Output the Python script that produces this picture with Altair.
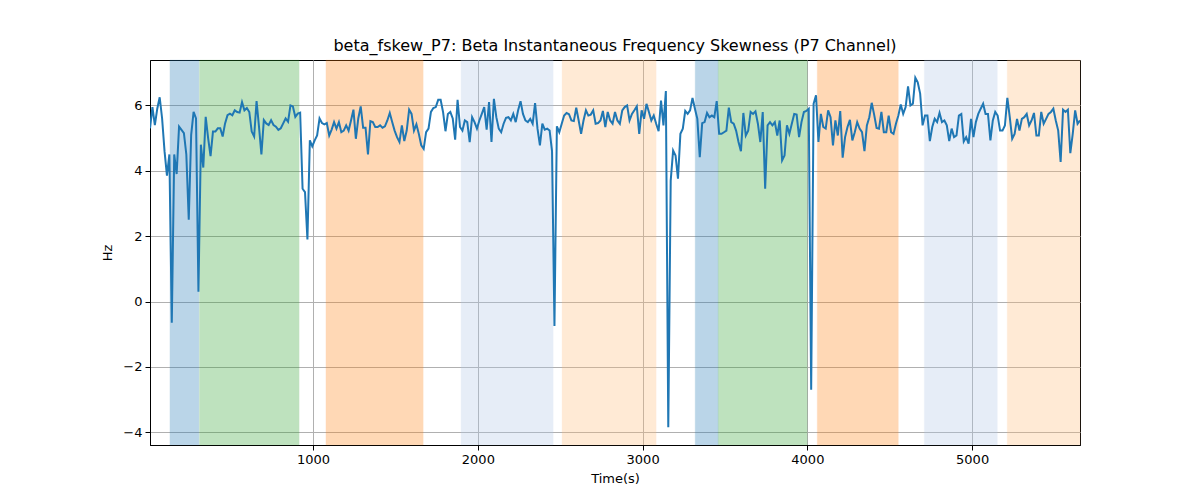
import altair as alt
import pandas as pd

# sampling grid of the recording
t_start = 10.0
t_step = 14.7

# beta skewness, Hz, one value per sample
skew_hz = [
    5.3, 5.95, 5.4, 5.9, 6.25, 5.6, 4.6, 3.85, 4.5, -0.65,
    4.5, 3.9, 5.35, 5.25, 5.15, 4.5, 2.5, 5.1, 5.8, 5.6,
    0.3, 4.8, 4.1, 5.65, 5.0, 4.45, 5.2, 5.2, 5.3, 5.3,
    5.05, 5.45, 5.7, 5.75, 5.7, 5.85, 5.8, 5.78, 6.1, 5.85,
    5.92, 5.8, 5.2, 5.05, 6.13, 5.35, 4.5, 5.55, 5.45, 5.4,
    5.55, 5.4, 5.35, 5.25, 5.3, 5.45, 5.6, 5.5, 6.0, 5.97,
    5.65, 5.75, 5.78, 3.45, 3.35, 1.9, 4.93, 4.75, 4.93, 5.08,
    5.6, 5.46, 5.42, 5.46, 5.08, 5.26, 5.49, 5.29, 5.49, 5.18,
    5.23, 5.39, 5.23, 5.54, 5.87, 4.98, 5.6, 5.97, 5.32, 5.32,
    4.5, 5.52, 5.49, 5.34, 5.34, 5.39, 5.32, 5.36, 5.54, 5.77,
    5.49, 5.23, 5.03, 4.88, 5.39, 4.91, 5.23, 5.87, 5.74, 5.23,
    5.42, 5.13, 4.78, 4.67, 5.18, 5.29, 5.8, 5.92, 5.95, 6.17,
    6.17, 5.8, 5.21, 5.74, 5.8, 5.6, 4.95, 6.17, 5.34, 5.23,
    5.54, 5.49, 4.88, 5.64, 5.49, 5.29, 5.54, 5.74, 5.95, 5.26,
    6.1, 4.88, 6.2, 5.64, 5.29, 5.18, 5.44, 5.62, 5.64, 5.54,
    5.74, 5.49, 5.85, 6.13, 5.74, 5.54, 5.49, 5.59, 5.44, 6.07,
    5.29, 4.78, 5.44, 5.26, 5.29, 5.23, 4.6, -0.75, 5.36, 5.18,
    5.44, 5.69, 5.77, 5.73, 5.54, 5.52, 5.93, 5.54, 5.13, 5.54,
    5.85, 5.69, 5.72, 5.85, 5.44, 5.46, 5.54, 5.83, 5.34, 5.8,
    5.54, 5.44, 5.8, 5.54, 5.44, 5.85, 5.95, 6.0, 5.54, 5.74,
    5.85, 5.97, 5.13, 5.85, 5.59, 6.05, 5.8, 5.54, 5.69, 5.44,
    5.21, 6.15, 5.39, 6.44, -3.85, 3.7, 4.62, 4.47, 3.76, 5.13,
    5.29, 5.83, 5.74, 5.85, 6.23, 5.9, 5.59, 4.42, 5.46, 5.49,
    5.77, 5.64, 5.69, 5.64, 6.13, 5.13, 5.13, 5.18, 5.23, 5.93,
    5.49, 5.44, 5.23, 4.88, 4.6, 5.77, 5.08, 5.23, 5.8, 5.74,
    5.82, 5.44, 4.88, 5.8, 3.45, 5.39, 5.49, 5.39, 5.49, 5.08,
    5.54, 4.32, 4.47, 5.39, 5.13, 5.44, 5.74, 5.72, 5.03, 5.49,
    5.8, 5.83, 5.9, -2.7, 6.05, 6.31, 4.88, 5.74, 5.34, 5.29,
    5.85, 5.64, 4.78, 5.54, 5.08, 5.83, 4.4, 5.03, 5.34, 5.56,
    4.93, 5.18, 5.49, 5.29, 5.18, 4.6, 5.39, 5.64, 6.08, 5.72,
    5.31, 5.29, 5.8, 5.18, 5.18, 5.69, 5.18, 5.13, 5.44, 5.69,
    6.03, 5.74, 5.95, 6.58, 6.0, 6.05, 6.85, 6.71, 6.36, 5.39,
    5.69, 5.69, 4.91, 5.34, 5.59, 5.49, 5.77, 5.49, 5.54, 5.39,
    4.91, 5.29, 5.03, 5.08, 5.69, 5.74, 4.9, 5.03, 4.83, 5.59,
    5.03, 5.49, 5.74, 5.9, 6.05, 5.74, 5.74, 4.93, 5.54, 5.8,
    5.69, 5.23, 5.23, 5.39, 6.23, 5.64, 4.98, 5.13, 5.59, 5.23,
    5.59, 5.64, 5.74, 5.39, 5.54, 5.77, 5.08, 5.08, 5.8, 5.44,
    5.59, 5.74, 5.8, 5.9, 5.54, 5.23, 4.27, 5.87, 5.8, 5.87,
    4.54, 5.13, 5.85, 5.44, 5.54,
]

# shaded stages
band_start = [131, 310, 1078, 1898, 2511, 3319, 3459, 4060, 4710, 5213]
band_end = [307, 915, 1668, 2457, 3082, 3459, 3999, 4552, 5153, 5656]
band_color = ["#1f77b4", "#2ca02c", "#ff7f0e", "#aec7e8", "#ffbb78",
              "#1f77b4", "#2ca02c", "#ff7f0e", "#aec7e8", "#ffbb78"]

x_ticks = [1000, 2000, 3000, 4000, 5000]
y_ticks = [-4, -2, 0, 2, 4, 6]

times = [t_start + i * t_step for i in range(len(skew_hz))]
df = pd.DataFrame({"t": times, "v": skew_hz})
bands = pd.DataFrame({"a": band_start, "b": band_end, "c": band_color})

x_scale = alt.Scale(domain=[times[0], times[-1]], nice=False, zero=False)
y_scale = alt.Scale(domain=[-4.39, 7.39], nice=False, zero=False)

x_axis = alt.Axis(title="Time(s)", values=x_ticks, format="d")
y_axis = alt.Axis(title="Hz", values=y_ticks, format="d")

shade = alt.Chart(bands).mark_rect(opacity=0.3, strokeWidth=1, strokeOpacity=0.3).encode(
    x=alt.X("a:Q", scale=x_scale, axis=x_axis),
    x2="b:Q",
    color=alt.Color("c:N", scale=None),
    stroke=alt.Color("c:N", scale=None),
)

line = alt.Chart(df).mark_line(color="#1f77b4", strokeWidth=2, clip=True).encode(
    x=alt.X("t:Q", scale=x_scale, axis=x_axis),
    y=alt.Y("v:Q", scale=y_scale, axis=y_axis),
)

chart = alt.layer(shade, line).properties(
    width=930,
    height=385,
    autosize=alt.AutoSizeParams(type="none"),
    padding={"left": 142, "top": 52, "right": 112, "bottom": 47},
    title=alt.Title(
        "beta_fskew_P7: Beta Instantaneous Frequency Skewness (P7 Channel)",
        fontSize=16, fontWeight="normal", font="DejaVu Sans", color="black", offset=6,
    ),
).configure_view(
    stroke="black", strokeWidth=1
).configure_axis(
    labelFont="DejaVu Sans", labelFontSize=13, labelColor="black",
    titleFont="DejaVu Sans", titleFontSize=13, titleFontWeight="normal", titleColor="black",
    domainColor="black", tickColor="black", tickSize=5,
    gridColor="#b0b0b0", gridWidth=1, labelPadding=3,
).configure_axisX(
    titlePadding=6
).configure_axisY(
    titlePadding=8
)

chart.save("out.html", embed_options={"renderer": "svg", "actions": False})
